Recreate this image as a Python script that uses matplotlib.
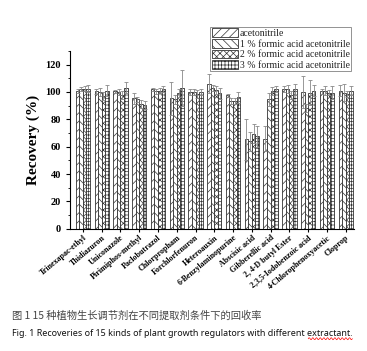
import matplotlib
matplotlib.use('Agg')
import matplotlib.pyplot as plt
import numpy as np
from matplotlib.ticker import MultipleLocator

# data
compounds = ['Trinexapac-ethyl', 'Thidiazuron', 'Uniconazole', 'Pirimiphos-methyl',
             'Paclobutrazol', 'Chlorpropham', 'Forchlorfenuron', 'Heteroauxin',
             '6-Benzylaminopurine', 'Abscisic acid', 'Gibberellic acid',
             '2, 4-D butyl Ester', '2,3,5-Iodobenzoic acid', '4-Chlorophenoxyacetic', 'Cloprop']
series_names = ['acetonitrile', '1 % formic acid acetonitrile',
                '2 % formic acid acetonitrile', '3 % formic acid acetonitrile']

acn = [100.5, 100.5, 100.5, 95.5, 102, 95.5, 100, 106, 97.5, 65.5, 66, 102, 100, 100.5, 101]
fa1 = [102, 100, 100, 94.5, 100.5, 94.5, 100, 103, 93.5, 64, 94.5, 102, 88.5, 101, 99.5]
fa2 = [102.5, 97, 98, 91, 101, 99, 98.5, 101.5, 93.5, 69.5, 100.5, 97.5, 99.5, 99.5, 98.5]
fa3 = [102.5, 101, 103, 90.5, 102, 103, 100, 99, 96, 67.5, 102, 102, 101, 99.5, 101]

acn_err = [1.5, 2, 1, 4, 1, 12, 2, 7, 1, 15, 9, 2, 12, 2, 4]
fa1_err = [1.5, 3, 2, 2, 2, 3, 2, 2, 2, 7, 5, 3, 3, 3, 6]
fa2_err = [2, 3, 3, 3, 2, 3, 3, 3, 2, 7, 3, 3, 9, 2, 2]
fa3_err = [2.5, 4, 4, 3, 2, 13, 2, 4, 4, 8, 2, 4, 4, 5, 3]

caption_cn = '图 1 15 种植物生长调节剂在不同提取剂条件下的回收率'
caption_en = 'Fig. 1 Recoveries of 15 kinds of plant growth regulators with different extractant.'

plt.rcParams['hatch.linewidth'] = 0.5
plt.rcParams['font.family'] = ['Liberation Serif', 'DejaVu Serif']

fig = plt.figure(figsize=(3.67, 3.51), dpi=100)
ax = fig.add_axes([0.191, 0.348, 0.774, 0.507])

x = np.arange(len(compounds))
w = 0.19
values = [acn, fa1, fa2, fa3]
errors = [acn_err, fa1_err, fa2_err, fa3_err]
hatches = ['////', '\\\\\\\\', 'xxxxx', '+++++']

for i, (vals, errs, h, name) in enumerate(zip(values, errors, hatches, series_names)):
    ax.bar(x + (i - 1.5) * w, vals, w, yerr=errs, color='white', edgecolor='#333333',
           hatch=h, linewidth=0.6, label=name,
           error_kw=dict(ecolor='#888888', elinewidth=0.6, capsize=1.5, capthick=0.6))

ax.set_xlim(-0.68, 14.45)
ax.set_ylim(0, 130)
ax.yaxis.set_major_locator(MultipleLocator(20))
ax.yaxis.set_minor_locator(MultipleLocator(10))
ax.set_xticks(x)
ax.set_xticklabels(compounds, rotation=40, ha='right', rotation_mode='anchor',
                   fontsize=5.8, fontweight='bold')
for lab in ax.get_yticklabels():
    lab.set_fontweight('bold')
ax.tick_params(axis='y', labelsize=7.5, width=0.8, length=3, direction='out')
ax.tick_params(axis='y', which='minor', width=0.6, length=1.5)
ax.tick_params(axis='x', width=0.8, length=2.5, direction='out', pad=1)
ax.set_ylabel('Recovery (%)', fontsize=11, fontweight='bold', labelpad=4)

for s in ['top', 'right']:
    ax.spines[s].set_visible(False)
for s in ['left', 'bottom']:
    ax.spines[s].set_linewidth(0.8)

leg = ax.legend(loc='upper right', bbox_to_anchor=(0.99, 1.135), fontsize=7.0,
                frameon=True, fancybox=False, edgecolor='#777777',
                borderpad=0.15, labelspacing=0.1, handlelength=2.7, handleheight=1.0,
                handletextpad=0.2, borderaxespad=0)
leg.get_frame().set_linewidth(0.7)
for t in leg.get_texts():
    t.set_color('#222222')

fig.text(0.033, 0.093, caption_cn, fontsize=7.4, color='#444444',
         family=['Noto Sans CJK SC', 'DejaVu Sans'])
fig.text(0.033, 0.042, caption_en, fontsize=6.45, color='#111111',
         family=['Noto Sans', 'DejaVu Sans'])

# red wavy spell-check underline under "extractant."
xs = np.linspace(0.84, 0.96, 60)
ys = 0.035 + 0.003 * np.sin(np.linspace(0, 24 * np.pi, 60))
fig.add_artist(plt.Line2D(xs, ys, color='red', linewidth=0.5, transform=fig.transFigure))

fig.savefig('out.png', dpi=100)
